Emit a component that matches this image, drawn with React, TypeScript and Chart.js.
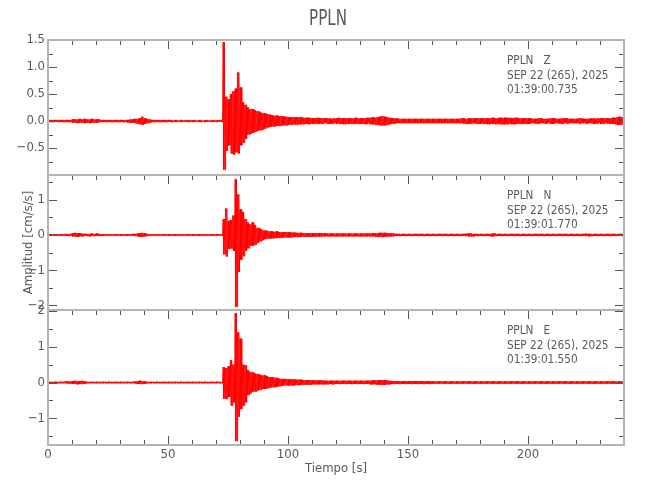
import React, { useEffect, useRef } from "react";
import { Chart, registerables } from "chart.js";

Chart.register(...registerables);

// ---- data: envelope per 1 s step, 0..240 s ----
const TIME_START = 0;
const TIME_STEP = 1;

const stationTitle = "PPLN";
const panelLabels = [
  ["PPLN   Z", "SEP 22 (265), 2025", "01:39:00.735"],
  ["PPLN   N", "SEP 22 (265), 2025", "01:39:01.770"],
  ["PPLN   E", "SEP 22 (265), 2025", "01:39:01.550"],
];
const xTicks = [0,10,20,30,40,50,60,70,80,90,100,110,120,130,140,150,160,170,180,190,200,210,220,230,240];
const xTickLabels = [0, 50, 100, 150, 200];
const zTicks = [-1.0,-0.75,-0.5,-0.25,0,0.25,0.5,0.75,1.0,1.25,1.5];
const zTickLabels = [1.5, 1.0, 0.5, 0.0, -0.5];
const nTicks = [-2,-1.5,-1,-0.5,0,0.5,1,1.5];
const nTickLabels = [1, 0, -1, -2];
const eTicks = [-1.5,-1,-0.5,0,0.5,1,1.5,2];
const eTickLabels = [2, 1, 0, -1];

const zUp = [
  0.02,0.02,0.02,0.02,0.02,0.02,0.02,0.02,0.02,0.02,
  0.03,0.03,0.03,0.04,0.03,0.04,0.03,0.03,0.04,0.03,
  0.03,0.03,0.02,0.02,0.02,0.02,0.02,0.02,0.02,0.02,
  0.02,0.02,0.02,0.02,0.03,0.03,0.04,0.04,0.05,0.08,
  0.05,0.04,0.03,0.02,0.02,0.02,0.02,0.02,0.02,0.02,
  0.02,0.02,0.01,0.02,0.01,0.02,0.01,0.02,0.01,0.02,
  0.01,0.02,0.01,0.02,0.01,0.01,0.02,0.01,0.01,0.02,
  0.01,0.02,0.02,1.46,0.45,0.40,0.50,0.55,0.60,0.90,
  0.62,0.35,0.30,0.25,0.22,0.22,0.20,0.18,0.17,0.15,
  0.14,0.13,0.12,0.11,0.10,0.10,0.09,0.09,0.08,0.08,
  0.07,0.07,0.07,0.07,0.07,0.07,0.06,0.06,0.06,0.06,
  0.05,0.05,0.06,0.05,0.05,0.05,0.05,0.05,0.04,0.05,
  0.05,0.06,0.05,0.05,0.05,0.05,0.05,0.05,0.06,0.05,
  0.05,0.05,0.05,0.06,0.06,0.07,0.06,0.07,0.08,0.09,
  0.08,0.07,0.06,0.05,0.05,0.05,0.04,0.04,0.04,0.04,
  0.04,0.04,0.04,0.04,0.04,0.04,0.04,0.04,0.04,0.04,
  0.04,0.04,0.04,0.04,0.04,0.04,0.04,0.04,0.04,0.04,
  0.04,0.04,0.05,0.05,0.04,0.05,0.05,0.05,0.05,0.05,
  0.05,0.05,0.05,0.05,0.05,0.06,0.05,0.05,0.06,0.06,
  0.06,0.06,0.06,0.05,0.06,0.06,0.05,0.05,0.05,0.05,
  0.05,0.05,0.04,0.04,0.05,0.05,0.04,0.04,0.04,0.05,
  0.05,0.05,0.04,0.04,0.05,0.05,0.05,0.04,0.04,0.04,
  0.04,0.05,0.05,0.04,0.04,0.04,0.05,0.05,0.04,0.05,
  0.05,0.05,0.05,0.05,0.05,0.06,0.06,0.07,0.08,0.07,
  0.05,
];
const zLo = [
  -0.02,-0.02,-0.02,-0.01,-0.02,-0.02,-0.02,-0.02,-0.02,-0.02,
  -0.03,-0.03,-0.04,-0.03,-0.03,-0.04,-0.03,-0.04,-0.03,-0.03,
  -0.03,-0.02,-0.02,-0.02,-0.02,-0.02,-0.02,-0.02,-0.02,-0.02,
  -0.02,-0.02,-0.02,-0.03,-0.03,-0.03,-0.04,-0.05,-0.06,-0.07,
  -0.05,-0.04,-0.03,-0.02,-0.02,-0.02,-0.02,-0.02,-0.02,-0.02,
  -0.01,-0.02,-0.01,-0.02,-0.01,-0.02,-0.01,-0.01,-0.02,-0.01,
  -0.02,-0.01,-0.01,-0.02,-0.01,-0.02,-0.01,-0.01,-0.02,-0.01,
  -0.02,-0.01,-0.02,-0.90,-0.55,-0.45,-0.60,-0.62,-0.58,-0.60,
  -0.45,-0.40,-0.33,-0.25,-0.24,-0.22,-0.20,-0.18,-0.17,-0.16,
  -0.14,-0.12,-0.11,-0.10,-0.10,-0.09,-0.09,-0.08,-0.08,-0.08,
  -0.07,-0.07,-0.06,-0.07,-0.06,-0.06,-0.06,-0.05,-0.06,-0.05,
  -0.05,-0.05,-0.05,-0.05,-0.05,-0.04,-0.05,-0.05,-0.05,-0.04,
  -0.05,-0.05,-0.05,-0.06,-0.05,-0.05,-0.05,-0.05,-0.05,-0.05,
  -0.05,-0.05,-0.06,-0.05,-0.06,-0.06,-0.07,-0.07,-0.08,-0.08,
  -0.08,-0.07,-0.06,-0.05,-0.05,-0.04,-0.04,-0.04,-0.04,-0.04,
  -0.04,-0.04,-0.04,-0.04,-0.04,-0.04,-0.04,-0.04,-0.04,-0.04,
  -0.04,-0.04,-0.04,-0.04,-0.04,-0.04,-0.04,-0.04,-0.04,-0.04,
  -0.04,-0.04,-0.04,-0.05,-0.05,-0.05,-0.05,-0.04,-0.05,-0.05,
  -0.05,-0.05,-0.05,-0.06,-0.05,-0.05,-0.06,-0.05,-0.06,-0.06,
  -0.06,-0.06,-0.05,-0.06,-0.06,-0.05,-0.05,-0.05,-0.05,-0.05,
  -0.05,-0.04,-0.04,-0.05,-0.05,-0.04,-0.04,-0.05,-0.04,-0.05,
  -0.05,-0.04,-0.04,-0.05,-0.05,-0.04,-0.05,-0.04,-0.04,-0.04,
  -0.04,-0.05,-0.04,-0.04,-0.05,-0.04,-0.04,-0.05,-0.05,-0.04,
  -0.05,-0.05,-0.04,-0.05,-0.05,-0.05,-0.06,-0.07,-0.07,-0.06,
  -0.05,
];

const nUp = [
  0.02,0.02,0.02,0.02,0.02,0.02,0.02,0.03,0.02,0.03,
  0.05,0.06,0.05,0.05,0.04,0.03,0.03,0.03,0.04,0.03,
  0.04,0.03,0.02,0.02,0.02,0.02,0.02,0.02,0.02,0.02,
  0.02,0.02,0.02,0.02,0.02,0.03,0.03,0.04,0.05,0.06,
  0.05,0.03,0.02,0.02,0.02,0.02,0.02,0.02,0.02,0.02,
  0.02,0.02,0.02,0.02,0.02,0.02,0.02,0.02,0.02,0.02,
  0.02,0.02,0.02,0.02,0.02,0.02,0.02,0.02,0.02,0.02,
  0.02,0.02,0.02,0.45,0.75,0.40,0.42,0.55,1.58,1.15,
  0.72,0.65,0.45,0.35,0.30,0.35,0.28,0.20,0.18,0.15,
  0.12,0.12,0.10,0.10,0.09,0.10,0.08,0.08,0.08,0.08,
  0.08,0.07,0.07,0.06,0.06,0.06,0.05,0.05,0.05,0.05,
  0.05,0.05,0.05,0.05,0.05,0.05,0.04,0.04,0.04,0.04,
  0.04,0.04,0.04,0.04,0.04,0.04,0.04,0.04,0.04,0.04,
  0.04,0.04,0.04,0.04,0.04,0.05,0.05,0.05,0.06,0.06,
  0.06,0.05,0.05,0.04,0.04,0.03,0.03,0.03,0.03,0.03,
  0.03,0.03,0.03,0.03,0.03,0.03,0.03,0.03,0.03,0.03,
  0.03,0.03,0.03,0.03,0.03,0.03,0.03,0.03,0.03,0.03,
  0.03,0.03,0.03,0.03,0.04,0.04,0.04,0.03,0.03,0.03,
  0.03,0.03,0.03,0.03,0.03,0.04,0.04,0.03,0.03,0.03,
  0.03,0.03,0.03,0.03,0.03,0.03,0.03,0.03,0.03,0.03,
  0.03,0.03,0.03,0.03,0.03,0.03,0.03,0.03,0.03,0.03,
  0.03,0.03,0.03,0.03,0.03,0.03,0.03,0.03,0.03,0.03,
  0.03,0.03,0.03,0.03,0.04,0.03,0.03,0.03,0.03,0.03,
  0.03,0.03,0.03,0.03,0.03,0.03,0.03,0.03,0.03,0.03,
  0.03,
];
const nLo = [
  -0.02,-0.02,-0.02,-0.02,-0.02,-0.02,-0.02,-0.02,-0.03,-0.02,
  -0.04,-0.05,-0.06,-0.04,-0.04,-0.03,-0.03,-0.04,-0.03,-0.03,
  -0.03,-0.03,-0.02,-0.02,-0.02,-0.02,-0.02,-0.02,-0.02,-0.02,
  -0.02,-0.02,-0.02,-0.02,-0.02,-0.02,-0.03,-0.04,-0.06,-0.05,
  -0.04,-0.03,-0.02,-0.02,-0.02,-0.02,-0.02,-0.02,-0.02,-0.02,
  -0.02,-0.02,-0.02,-0.02,-0.02,-0.02,-0.02,-0.02,-0.02,-0.02,
  -0.02,-0.02,-0.02,-0.02,-0.02,-0.02,-0.02,-0.02,-0.02,-0.02,
  -0.02,-0.02,-0.02,-0.55,-0.61,-0.40,-0.38,-0.45,-2.04,-1.05,
  -0.70,-0.60,-0.45,-0.38,-0.30,-0.30,-0.28,-0.22,-0.18,-0.15,
  -0.12,-0.10,-0.10,-0.10,-0.09,-0.09,-0.08,-0.08,-0.07,-0.07,
  -0.07,-0.07,-0.06,-0.06,-0.06,-0.05,-0.05,-0.05,-0.05,-0.05,
  -0.05,-0.05,-0.04,-0.05,-0.04,-0.04,-0.04,-0.04,-0.04,-0.04,
  -0.04,-0.04,-0.04,-0.04,-0.04,-0.04,-0.04,-0.04,-0.04,-0.04,
  -0.04,-0.04,-0.04,-0.04,-0.04,-0.04,-0.05,-0.05,-0.05,-0.06,
  -0.05,-0.05,-0.04,-0.04,-0.03,-0.03,-0.03,-0.03,-0.03,-0.03,
  -0.03,-0.03,-0.03,-0.03,-0.03,-0.03,-0.03,-0.03,-0.03,-0.03,
  -0.03,-0.03,-0.03,-0.03,-0.03,-0.03,-0.03,-0.03,-0.03,-0.03,
  -0.03,-0.03,-0.03,-0.03,-0.03,-0.04,-0.04,-0.04,-0.03,-0.03,
  -0.03,-0.03,-0.03,-0.03,-0.04,-0.04,-0.03,-0.03,-0.03,-0.03,
  -0.03,-0.03,-0.03,-0.03,-0.03,-0.03,-0.03,-0.03,-0.03,-0.03,
  -0.03,-0.03,-0.03,-0.03,-0.03,-0.03,-0.03,-0.03,-0.03,-0.03,
  -0.03,-0.03,-0.03,-0.03,-0.03,-0.03,-0.03,-0.03,-0.03,-0.03,
  -0.03,-0.03,-0.03,-0.03,-0.03,-0.04,-0.03,-0.03,-0.03,-0.03,
  -0.03,-0.03,-0.03,-0.03,-0.03,-0.03,-0.03,-0.03,-0.03,-0.03,
  -0.03,
];

const eUp = [
  0.02,0.02,0.02,0.02,0.02,0.02,0.02,0.03,0.03,0.03,
  0.04,0.05,0.04,0.04,0.05,0.03,0.02,0.02,0.02,0.02,
  0.02,0.02,0.02,0.02,0.02,0.02,0.02,0.02,0.02,0.02,
  0.02,0.02,0.02,0.02,0.02,0.02,0.03,0.04,0.05,0.04,
  0.03,0.02,0.02,0.02,0.02,0.02,0.02,0.02,0.02,0.02,
  0.02,0.02,0.02,0.02,0.02,0.02,0.02,0.02,0.02,0.02,
  0.02,0.02,0.02,0.02,0.02,0.02,0.02,0.02,0.02,0.02,
  0.02,0.02,0.02,0.43,0.40,0.45,0.62,0.50,1.93,1.40,
  1.22,0.50,0.48,0.35,0.30,0.28,0.25,0.24,0.22,0.20,
  0.20,0.18,0.15,0.15,0.14,0.13,0.11,0.10,0.10,0.10,
  0.09,0.09,0.09,0.08,0.08,0.08,0.07,0.07,0.07,0.07,
  0.06,0.06,0.06,0.06,0.06,0.05,0.05,0.05,0.05,0.05,
  0.05,0.05,0.05,0.05,0.05,0.05,0.05,0.05,0.05,0.05,
  0.05,0.05,0.05,0.05,0.05,0.06,0.06,0.06,0.07,0.07,
  0.07,0.06,0.05,0.04,0.04,0.04,0.04,0.04,0.04,0.04,
  0.04,0.04,0.04,0.04,0.04,0.04,0.04,0.04,0.04,0.04,
  0.03,0.03,0.03,0.03,0.03,0.03,0.03,0.03,0.03,0.03,
  0.03,0.03,0.03,0.03,0.03,0.03,0.03,0.03,0.03,0.03,
  0.03,0.03,0.03,0.03,0.03,0.03,0.03,0.03,0.03,0.03,
  0.03,0.03,0.03,0.03,0.03,0.03,0.03,0.03,0.03,0.03,
  0.03,0.03,0.03,0.03,0.03,0.03,0.03,0.03,0.03,0.03,
  0.03,0.03,0.03,0.03,0.03,0.03,0.03,0.03,0.03,0.03,
  0.03,0.03,0.03,0.03,0.03,0.03,0.03,0.03,0.03,0.03,
  0.03,0.03,0.03,0.03,0.03,0.03,0.03,0.03,0.03,0.03,
  0.03,
];
const eLo = [
  -0.02,-0.02,-0.02,-0.02,-0.02,-0.02,-0.02,-0.02,-0.03,-0.03,
  -0.04,-0.04,-0.05,-0.04,-0.04,-0.03,-0.02,-0.02,-0.02,-0.02,
  -0.02,-0.02,-0.02,-0.02,-0.02,-0.02,-0.02,-0.02,-0.02,-0.02,
  -0.02,-0.02,-0.02,-0.02,-0.02,-0.02,-0.03,-0.04,-0.04,-0.04,
  -0.03,-0.02,-0.02,-0.02,-0.02,-0.02,-0.02,-0.02,-0.02,-0.02,
  -0.02,-0.02,-0.02,-0.02,-0.02,-0.02,-0.02,-0.02,-0.02,-0.02,
  -0.02,-0.02,-0.02,-0.02,-0.02,-0.02,-0.02,-0.02,-0.02,-0.02,
  -0.02,-0.02,-0.02,-0.45,-0.46,-0.40,-0.64,-0.55,-1.63,-0.95,
  -0.74,-0.64,-0.55,-0.35,-0.30,-0.25,-0.25,-0.22,-0.20,-0.18,
  -0.18,-0.16,-0.14,-0.13,-0.13,-0.12,-0.10,-0.09,-0.08,-0.08,
  -0.08,-0.08,-0.08,-0.07,-0.07,-0.07,-0.06,-0.06,-0.06,-0.06,
  -0.05,-0.05,-0.05,-0.05,-0.05,-0.05,-0.05,-0.04,-0.05,-0.04,
  -0.04,-0.04,-0.04,-0.04,-0.04,-0.04,-0.04,-0.04,-0.04,-0.04,
  -0.04,-0.04,-0.04,-0.04,-0.05,-0.05,-0.05,-0.06,-0.06,-0.06,
  -0.06,-0.05,-0.05,-0.04,-0.04,-0.04,-0.04,-0.04,-0.04,-0.04,
  -0.04,-0.04,-0.04,-0.04,-0.04,-0.04,-0.04,-0.04,-0.04,-0.04,
  -0.03,-0.03,-0.03,-0.03,-0.03,-0.03,-0.03,-0.03,-0.03,-0.03,
  -0.03,-0.03,-0.03,-0.03,-0.03,-0.03,-0.03,-0.03,-0.03,-0.03,
  -0.03,-0.03,-0.03,-0.03,-0.03,-0.03,-0.03,-0.03,-0.03,-0.03,
  -0.03,-0.03,-0.03,-0.03,-0.03,-0.03,-0.03,-0.03,-0.03,-0.03,
  -0.03,-0.03,-0.03,-0.03,-0.03,-0.03,-0.03,-0.03,-0.03,-0.03,
  -0.03,-0.03,-0.03,-0.03,-0.03,-0.03,-0.03,-0.03,-0.03,-0.03,
  -0.03,-0.03,-0.03,-0.03,-0.03,-0.03,-0.03,-0.03,-0.03,-0.03,
  -0.03,-0.03,-0.03,-0.03,-0.03,-0.03,-0.03,-0.03,-0.03,-0.03,
  -0.03,
];

// axis ranges per panel
const zRange = [-1.0, 1.5];
const nRange = [-2.13, 1.7];
const eRange = [-1.74, 2.02];

const FONT = "'Liberation Sans Narrow', 'DejaVu Sans Condensed', 'Roboto Condensed', sans-serif";
const TEXT = "#5a5a5a";
const FRAME = "#b4b4b4";
const TICK = "#555555";

// Each 1-s bin is drawn as a dense oscillation between its read upper and lower extremes.
function trace(up: number[], lo: number[]) {
  const pts: { x: number; y: number }[] = [];
  for (let i = 0; i < up.length; i++) {
    const t = TIME_START + i * TIME_STEP;
    pts.push({ x: t, y: up[i] });
    if (i < up.length - 1) {
      pts.push({ x: t + TIME_STEP * 0.25, y: lo[i] });
      pts.push({ x: t + TIME_STEP * 0.5, y: up[i] });
      pts.push({ x: t + TIME_STEP * 0.75, y: lo[i] });
    }
  }
  return pts;
}

const isMult = (v: number, s: number) => Math.abs(v / s - Math.round(v / s)) < 1e-6;
const MAJOR: Record<string, number> = { yZ: 0.5, yN: 1, yE: 1 };

function fmt(n: number, decimals: number) {
  const s = Math.abs(n).toFixed(decimals);
  return n < 0 ? "\u2212" + s : s;
}

function yAxis(range: number[], ticks: number[], labels: number[], decimals: number, title?: string) {
  return {
    type: "linear" as const,
    position: "left" as const,
    stack: "panels",
    stackWeight: 1,
    min: range[0],
    max: range[1],
    afterFit: (s: any) => { s.width = 48; },
    afterBuildTicks: (s: any) => { s.ticks = ticks.map((v) => ({ value: v })); },
    grid: { display: false, drawTicks: false },
    border: { display: false },
    ticks: {
      autoSkip: false,
      padding: 3,
      color: TEXT,
      font: { family: FONT, size: 13 },
      callback: (v: any) => {
        const n = Number(v);
        return labels.some((l) => Math.abs(l - n) < 1e-6) ? fmt(n, decimals) : "";
      },
    },
    title: title
      ? { display: true, text: title, color: TEXT, font: { family: FONT, size: 13 }, padding: { top: 21, bottom: 0 } }
      : { display: false },
  };
}

export default function App() {
  const ref = useRef<HTMLCanvasElement | null>(null);
  useEffect(() => {
    if (!ref.current) return;
    const framePlugin = {
      id: "seisFrame",
      afterDraw(chart: any) {
        const ctx = chart.ctx;
        const { left, right } = chart.chartArea;
        const xs = chart.scales.x;
        const ids = ["yZ", "yN", "yE"];
        const panels = ids.map((k) => chart.scales[k]);
        ctx.save();
        // inward ticks
        ctx.strokeStyle = TICK;
        ctx.lineWidth = 1;
        ctx.beginPath();
        panels.forEach((s: any, idx: number) => {
          const major = MAJOR[ids[idx]];
          s.ticks.forEach((tk: any) => {
            const v = tk.value;
            const py = Math.round(s.getPixelForValue(v)) + 0.5;
            const len = isMult(v, major) ? 9 : 5;
            ctx.moveTo(left, py); ctx.lineTo(left + len, py);
            ctx.moveTo(right, py); ctx.lineTo(right - len, py);
          });
          xs.ticks.forEach((tk: any) => {
            const v = tk.value;
            const px = Math.round(xs.getPixelForValue(v)) + 0.5;
            const len = isMult(v, 50) ? 9 : 5;
            ctx.moveTo(px, s.top); ctx.lineTo(px, s.top + len);
            if (idx === panels.length - 1) { ctx.moveTo(px, s.bottom); ctx.lineTo(px, s.bottom - len); }
          });
        });
        ctx.stroke();
        // frames
        ctx.strokeStyle = FRAME;
        ctx.lineWidth = 2;
        panels.forEach((s: any) => {
          ctx.strokeRect(left, s.top, right - left, s.bottom - s.top);
        });
        // panel annotations
        ctx.fillStyle = TEXT;
        ctx.textBaseline = "middle";
        ctx.textAlign = "left";
        ctx.font = `13px ${FONT}`;
        panels.forEach((s: any, idx: number) => {
          panelLabels[idx].forEach((line, j) => {
            ctx.save();
            ctx.translate(507, s.top + 21 + j * 14.5);
            ctx.scale(0.9, 1);
            ctx.fillText(line, 0, 0);
            ctx.restore();
          });
        });
        // main title
        ctx.save();
        ctx.textAlign = "center";
        ctx.font = `21px ${FONT}`;
        ctx.translate(328, 20);
        ctx.scale(0.8, 1);
        ctx.fillText(stationTitle, 0, 0);
        ctx.restore();
        ctx.restore();
      },
    };
    const mk = (up: number[], lo: number[], axis: string) => ({
      data: trace(up, lo),
      yAxisID: axis,
      borderColor: "#ff0000",
      borderWidth: 1,
      pointRadius: 0,
      tension: 0,
    });
    const chart = new Chart(ref.current, {
      type: "line",
      data: {
        datasets: [mk(zUp, zLo, "yZ"), mk(nUp, nLo, "yN"), mk(eUp, eLo, "yE")],
      },
      options: {
        animation: false,
        responsive: false,
        layout: { padding: { top: 40, right: 26, left: 0, bottom: 0 } },
        plugins: { legend: { display: false }, tooltip: { enabled: false }, title: { display: false } },
        scales: {
          x: {
            type: "linear",
            position: "bottom",
            min: 0,
            max: 240,
            afterFit: (s: any) => { s.height = 55; },
            afterBuildTicks: (s: any) => { s.ticks = xTicks.map((v) => ({ value: v })); },
            grid: { display: false, drawTicks: false },
            border: { display: false },
            ticks: {
              autoSkip: false,
              maxRotation: 0,
              padding: 2,
              color: TEXT,
              font: { family: FONT, size: 13 },
              callback: (v: any) => (xTickLabels.includes(Number(v)) ? String(v) : ""),
            },
            title: { display: true, text: "Tiempo [s]", color: TEXT, font: { family: FONT, size: 13 }, padding: { top: 0, bottom: 24 } },
          },
          yE: yAxis(eRange, eTicks, eTickLabels, 0),
          yN: yAxis(nRange, nTicks, nTickLabels, 0, "Amplitud [cm/s/s]"),
          yZ: yAxis(zRange, zTicks, zTickLabels, 1),
        } as any,
      },
      plugins: [framePlugin],
    } as any);
    return () => chart.destroy();
  }, []);
  return (
    <div style={{ position: "fixed", left: 0, top: 0, width: 650, height: 500, background: "#fff" }}>
      <canvas ref={ref} width={650} height={500} style={{ width: 650, height: 500 }} />
    </div>
  );
}
